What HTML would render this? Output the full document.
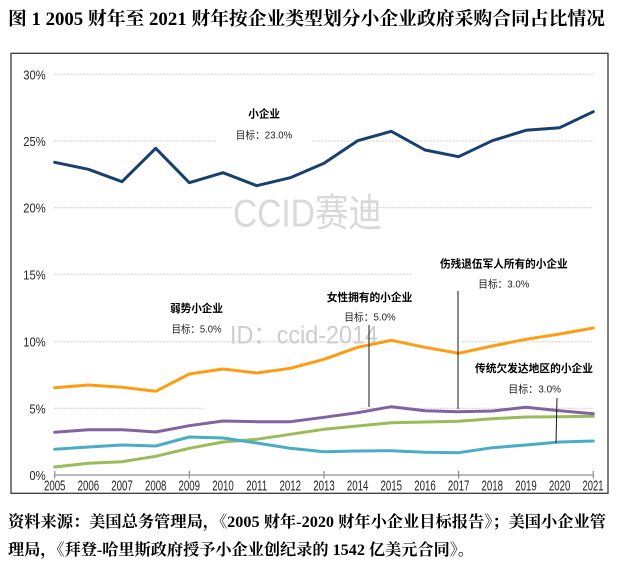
<!DOCTYPE html>
<html>
<head>
<meta charset="utf-8">
<style>
  html, body { margin: 0; padding: 0; background: #ffffff; }
  body { width: 622px; height: 569px; overflow: hidden; }
  svg { display: block; }
  .cjkb { font-family: "Liberation Sans", "Noto Sans CJK SC", sans-serif; font-weight: bold; }
  .tgt { font-family: "Liberation Sans", "Noto Sans CJK SC", sans-serif; }
  .ax { font-family: "Liberation Sans", "DejaVu Sans", sans-serif; fill: #262626; }
  .ser { font-family: "Liberation Serif", "Noto Serif CJK SC", serif; font-weight: bold; fill: #000; }
</style>
</head>
<body>
<svg width="622" height="569" viewBox="0 0 622 569" xmlns="http://www.w3.org/2000/svg">
  <rect x="0" y="0" width="622" height="569" fill="#ffffff"/>

  <!-- Title -->
  <text class="ser" x="8" y="25" font-size="18.5" textLength="597" lengthAdjust="spacingAndGlyphs">图 1 2005 财年至 2021 财年按企业类型划分小企业政府采购合同占比情况</text>

  <!-- Chart frame -->
  <rect x="11" y="53.3" width="597" height="440" fill="#ffffff" stroke="#3a3a3a" stroke-width="1.3"/>

  <!-- Gridlines -->
  <g stroke="#cfcfcf" stroke-width="1" stroke-dasharray="2 1.2" fill="none">
    <line x1="54" y1="74.3" x2="593" y2="74.3"/>
    <line x1="54" y1="141" x2="216" y2="141"/>
    <line x1="312" y1="141" x2="593" y2="141"/>
    <line x1="54" y1="207.7" x2="233" y2="207.7"/>
    <line x1="360" y1="207.7" x2="593" y2="207.7"/>
    <line x1="54" y1="274.3" x2="412" y2="274.3"/>
    <line x1="54" y1="341.7" x2="410" y2="341.7"/>
    <line x1="462" y1="341.7" x2="593" y2="341.7"/>
    <line x1="54" y1="408.3" x2="204" y2="408.3"/>
    <line x1="360" y1="408.3" x2="593" y2="408.3"/>
  </g>

  <!-- Y axis labels -->
  <g class="ax" font-size="13" text-anchor="end">
    <text x="45.7" y="79.3" textLength="22.4" lengthAdjust="spacingAndGlyphs">30%</text>
    <text x="45.7" y="146" textLength="22.4" lengthAdjust="spacingAndGlyphs">25%</text>
    <text x="45.7" y="212.7" textLength="22.4" lengthAdjust="spacingAndGlyphs">20%</text>
    <text x="45.7" y="279.3" textLength="22.4" lengthAdjust="spacingAndGlyphs">15%</text>
    <text x="45.7" y="346.7" textLength="22.4" lengthAdjust="spacingAndGlyphs">10%</text>
    <text x="45.7" y="413.3" textLength="16.3" lengthAdjust="spacingAndGlyphs">5%</text>
    <text x="45.7" y="480" textLength="16.3" lengthAdjust="spacingAndGlyphs">0%</text>
  </g>

  <!-- Watermarks -->
  <text x="233" y="226.5" font-family="Liberation Sans, Noto Sans CJK SC, sans-serif" font-size="39" fill="#d9d9d9" textLength="149" lengthAdjust="spacingAndGlyphs">CCID赛迪</text>
  <text x="230" y="343.3" font-family="Liberation Sans, Noto Sans CJK SC, sans-serif" font-size="25" fill="#cdcdcd" textLength="148" lengthAdjust="spacingAndGlyphs">ID：ccid-2014</text>

  <!-- X axis -->
  <line x1="54.7" y1="475" x2="593.3" y2="475" stroke="#a6a6a6" stroke-width="1.6"/>
  <g stroke="#8c8c8c" stroke-width="1.2">
    <line x1="54.7" y1="471" x2="54.7" y2="478.5"/>
    <line x1="189.3" y1="471" x2="189.3" y2="478.5"/>
    <line x1="324" y1="471" x2="324" y2="478.5"/>
    <line x1="458.6" y1="471" x2="458.6" y2="478.5"/>
    <line x1="593.3" y1="471" x2="593.3" y2="478.5"/>
  </g>
  <g class="ax" font-size="14.5" text-anchor="middle">
    <text x="54.7" y="490.5" textLength="21.5" lengthAdjust="spacingAndGlyphs">2005</text>
    <text x="88.4" y="490.5" textLength="21.5" lengthAdjust="spacingAndGlyphs">2006</text>
    <text x="122" y="490.5" textLength="21.5" lengthAdjust="spacingAndGlyphs">2007</text>
    <text x="155.7" y="490.5" textLength="21.5" lengthAdjust="spacingAndGlyphs">2008</text>
    <text x="189.3" y="490.5" textLength="21.5" lengthAdjust="spacingAndGlyphs">2009</text>
    <text x="223" y="490.5" textLength="21.5" lengthAdjust="spacingAndGlyphs">2010</text>
    <text x="256.7" y="490.5" textLength="21" lengthAdjust="spacingAndGlyphs">2011</text>
    <text x="290.3" y="490.5" textLength="21.5" lengthAdjust="spacingAndGlyphs">2012</text>
    <text x="324" y="490.5" textLength="21.5" lengthAdjust="spacingAndGlyphs">2013</text>
    <text x="357.6" y="490.5" textLength="21.5" lengthAdjust="spacingAndGlyphs">2014</text>
    <text x="391.3" y="490.5" textLength="21.5" lengthAdjust="spacingAndGlyphs">2015</text>
    <text x="425" y="490.5" textLength="21.5" lengthAdjust="spacingAndGlyphs">2016</text>
    <text x="458.6" y="490.5" textLength="21.5" lengthAdjust="spacingAndGlyphs">2017</text>
    <text x="492.3" y="490.5" textLength="21.5" lengthAdjust="spacingAndGlyphs">2018</text>
    <text x="526" y="490.5" textLength="21.5" lengthAdjust="spacingAndGlyphs">2019</text>
    <text x="559.6" y="490.5" textLength="21.5" lengthAdjust="spacingAndGlyphs">2020</text>
    <text x="593" y="490.5" textLength="21" lengthAdjust="spacingAndGlyphs">2021</text>
  </g>

  <!-- Series -->
  <g fill="none" stroke-width="3" stroke-linejoin="round" stroke-linecap="round">
    <!-- Green -->
    <polyline stroke="#9BBB59" points="54.7,467 88.4,463.3 122,461.7 155.7,456.3 189.3,448.3 223,442 256.7,439.3 290.3,434.3 324,429.3 357.6,426 391.3,422.7 425,422 458.6,421.3 492.3,418.7 526,417 559.6,416.7 593.3,416.3"/>
    <!-- Cyan -->
    <polyline stroke="#4BACC6" points="54.7,449.3 88.4,447 122,445 155.7,446 189.3,437 223,438 256.7,443 290.3,448.3 324,451.7 357.6,451 391.3,450.7 425,452.3 458.6,452.7 492.3,447.7 526,445 559.6,442 593.3,441"/>
    <!-- Purple -->
    <polyline stroke="#8064A2" points="54.7,432.3 88.4,429.7 122,429.7 155.7,432 189.3,425.7 223,421 256.7,421.7 290.3,421.7 324,417.3 357.6,412.7 391.3,406.7 425,410.7 458.6,411.7 492.3,411 526,407.3 559.6,410.7 593.3,413.7"/>
    <!-- Orange -->
    <polyline stroke="#FF9C14" points="54.7,387.7 88.4,385 122,387.3 155.7,391.3 189.3,374 223,369 256.7,373 290.3,368.3 324,359.3 357.6,347.3 391.3,340.3 425,347.3 458.6,353.3 492.3,346 526,339.3 559.6,334 593.3,328"/>
    <!-- Navy -->
    <polyline stroke="#17406D" points="54.7,162.3 88.4,169.3 122,181.7 155.7,148.3 189.3,182.7 223,172.7 256.7,185.7 290.3,177.7 324,163.3 357.6,140.7 391.3,131.3 425,150 458.6,156.7 492.3,140.7 526,130.3 559.6,127.7 593.3,111.7"/>
  </g>

  <!-- Pointer lines -->
  <g stroke="#1a1a1a" stroke-width="1">
    <line x1="369" y1="325" x2="369" y2="407"/>
    <line x1="458" y1="291" x2="458" y2="409"/>
    <line x1="557" y1="398" x2="556" y2="443"/>
  </g>

  <!-- Series labels -->
  <g fill="#000">
    <text class="cjkb" x="248.3" y="117.5" font-size="11" textLength="31.7" lengthAdjust="spacingAndGlyphs">小企业</text>
    <text class="tgt" x="235.7" y="138.3" font-size="10.5" fill="#222" textLength="56.6" lengthAdjust="spacingAndGlyphs">目标：23.0%</text>

    <text class="cjkb" x="170" y="312.2" font-size="11" textLength="53" lengthAdjust="spacingAndGlyphs">弱势小企业</text>
    <text class="tgt" x="171.5" y="332.5" font-size="10.5" fill="#222" textLength="50" lengthAdjust="spacingAndGlyphs">目标：5.0%</text>

    <text class="cjkb" x="326.7" y="301" font-size="11" textLength="85.6" lengthAdjust="spacingAndGlyphs">女性拥有的小企业</text>
    <text class="tgt" x="344.3" y="320.5" font-size="10.5" fill="#222" textLength="51.4" lengthAdjust="spacingAndGlyphs">目标：5.0%</text>

    <text class="cjkb" x="440" y="267.5" font-size="11" textLength="127.7" lengthAdjust="spacingAndGlyphs">伤残退伍军人所有的小企业</text>
    <text class="tgt" x="478.3" y="287.5" font-size="10.5" fill="#222" textLength="51" lengthAdjust="spacingAndGlyphs">目标：3.0%</text>

    <text class="cjkb" x="475" y="372" font-size="11" textLength="118" lengthAdjust="spacingAndGlyphs">传统欠发达地区的小企业</text>
    <text class="tgt" x="508.3" y="392.5" font-size="10.5" fill="#222" textLength="52.7" lengthAdjust="spacingAndGlyphs">目标：3.0%</text>
  </g>

  <!-- Footer -->
  <text class="ser" x="8" y="527" font-size="16" textLength="598" lengthAdjust="spacingAndGlyphs">资料来源：美国总务管理局，《2005 财年-2020 财年小企业目标报告》；美国小企业管</text>
  <text class="ser" x="8" y="555" font-size="16" textLength="466" lengthAdjust="spacingAndGlyphs">理局，《拜登-哈里斯政府授予小企业创纪录的 1542 亿美元合同》。</text>
</svg>
</body>
</html>
